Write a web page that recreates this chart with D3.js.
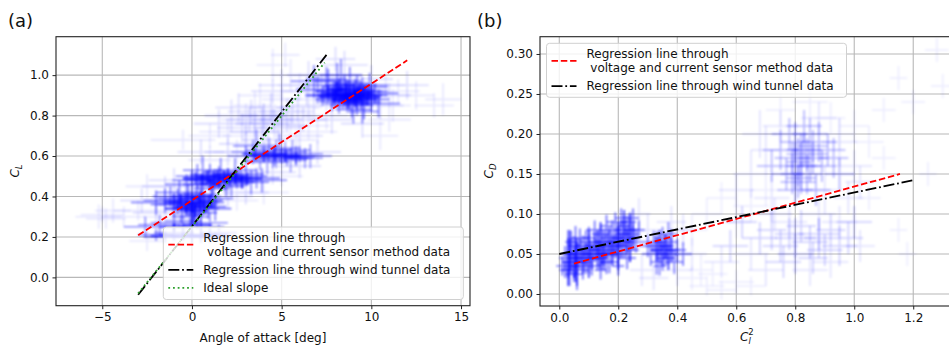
<!DOCTYPE html>
<html lang="en">
<head>
  <meta charset="utf-8">
  <title>Lift and drag coefficients</title>
  <script src="https://d3js.org/d3.v7.min.js"></script>
  <style>
    body { margin: 0; background: #fff; }
    text { font-family: "DejaVu Sans", sans-serif; fill: #111; }
  </style>
</head>
<body>
<script>
// ---- panel (a): angle of attack vs C_L, rows are [aoa, cl, xerr, yerr]
var aoaHigh = [
  [7.0,0.93,1.2,0.07],[7.3,0.90,1.0,0.05],[7.6,0.95,1.4,0.08],[7.8,0.88,0.9,0.06],[8.0,0.92,1.1,0.05],
  [8.1,0.97,1.3,0.09],[8.2,0.86,0.8,0.05],[8.4,0.90,1.0,0.04],[8.5,0.94,1.2,0.06],[8.6,0.88,0.9,0.05],
  [8.7,0.91,1.5,0.07],[8.8,0.96,1.0,0.08],[8.9,0.85,1.2,0.06],[9.0,0.90,0.9,0.04],[9.1,0.93,1.1,0.05],
  [9.2,0.87,1.3,0.07],[9.3,0.91,0.8,0.05],[9.4,0.89,1.0,0.06],[9.5,0.94,1.4,0.05],[9.6,0.86,0.9,0.08],
  [9.7,0.90,1.2,0.05],[9.8,0.92,0.8,0.04],[10.0,0.88,1.0,0.06],[10.2,0.91,1.3,0.05],[7.5,0.98,1.1,0.06],
  [8.3,1.00,1.2,0.08],[9.0,0.83,1.0,0.07],[9.5,0.82,0.9,0.06],[7.9,0.91,0.8,0.04],[8.6,0.93,1.0,0.05],
  [10.4,0.86,1.2,0.07],[6.8,0.97,1.3,0.08],[9.9,0.95,1.0,0.06],[8.2,0.89,1.1,0.05],[9.1,0.88,0.9,0.04],
  [8.0,0.90,1.6,0.06],[9.4,0.92,1.5,0.05],[8.8,0.90,1.8,0.07],[8.4,0.87,1.3,0.04],[9.2,0.95,1.1,0.05]
];
var aoaMid = [
  [3.0,0.60,1.0,0.05],[3.4,0.62,1.2,0.06],[3.8,0.58,0.9,0.05],[4.0,0.61,1.1,0.04],[4.3,0.63,1.3,0.06],
  [4.5,0.59,1.0,0.05],[4.7,0.61,1.4,0.07],[5.0,0.60,1.0,0.04],[5.2,0.62,1.2,0.05],[5.5,0.58,0.9,0.06],
  [5.8,0.60,1.1,0.05],[6.0,0.61,1.3,0.04],[6.3,0.59,1.0,0.05],[4.2,0.57,1.2,0.06],[4.9,0.64,1.1,0.07],
  [3.6,0.65,1.3,0.08],[5.6,0.63,1.0,0.05],[6.6,0.60,1.2,0.06],[4.6,0.60,1.6,0.05],[5.3,0.59,1.5,0.04]
];
var aoaLow = [
  [0.0,0.48,1.1,0.05],[0.3,0.50,1.2,0.06],[0.5,0.46,1.0,0.05],[0.8,0.49,1.3,0.04],[1.0,0.51,1.1,0.05],
  [1.2,0.47,0.9,0.06],[1.4,0.49,1.2,0.04],[1.6,0.52,1.0,0.07],[1.8,0.48,1.4,0.05],[2.0,0.50,1.1,0.04],
  [2.2,0.46,1.0,0.06],[2.5,0.49,1.3,0.05],[2.8,0.48,1.1,0.04],[3.0,0.50,1.2,0.05],[3.3,0.47,1.0,0.06],
  [3.6,0.49,1.3,0.05],[1.1,0.44,1.0,0.05],[2.4,0.53,1.2,0.06],[0.6,0.53,1.1,0.07],[1.9,0.45,1.0,0.05],
  [3.9,0.48,1.4,0.06],[-0.3,0.46,1.2,0.05],[1.5,0.50,1.6,0.05],[2.7,0.51,1.3,0.04],[1.3,0.48,1.8,0.04]
];
var aoaZero = [
  [-1.5,0.38,1.2,0.06],[-1.2,0.40,1.0,0.05],[-1.0,0.36,1.3,0.06],[-0.8,0.39,1.1,0.05],[-0.6,0.34,0.9,0.07],
  [-0.4,0.37,1.2,0.05],[-0.2,0.40,1.0,0.06],[0.0,0.35,1.1,0.08],[0.1,0.33,0.8,0.07],[0.2,0.38,1.2,0.05],
  [0.4,0.36,1.0,0.06],[0.5,0.32,0.9,0.07],[0.7,0.37,1.1,0.05],[0.9,0.35,1.0,0.06],[1.1,0.39,1.2,0.05],
  [1.3,0.34,0.9,0.06],[-0.1,0.30,1.0,0.07],[0.3,0.41,1.1,0.05],[-0.7,0.42,1.3,0.06],[0.6,0.40,1.0,0.05],
  [-2.0,0.37,1.4,0.06],[0.0,0.37,1.5,0.05],[0.2,0.34,1.3,0.06],[-0.3,0.36,1.6,0.05]
];
var aoaBand = [
  [-2.0,0.21,1.0,0.03],[-1.5,0.20,1.2,0.03],[-1.0,0.22,1.1,0.04],[-0.5,0.21,1.3,0.03],[0.0,0.20,1.2,0.03],
  [0.5,0.21,1.0,0.04],[1.0,0.20,1.2,0.03],[1.5,0.22,1.0,0.04],[-1.8,0.26,1.2,0.05],[-1.0,0.27,1.3,0.05],
  [0.0,0.26,1.1,0.04],[1.0,0.27,1.0,0.05],[-2.6,0.25,1.2,0.05],[0.5,0.25,1.3,0.04],[-0.5,0.28,1.0,0.05]
];
var aoaCore = [
  [7.6,0.92,0.7,0.03],[7.9,0.89,0.8,0.03],[8.1,0.93,0.6,0.04],[8.3,0.91,0.9,0.03],[8.5,0.88,0.7,0.03],
  [8.6,0.92,0.8,0.04],[8.8,0.90,0.6,0.03],[9.0,0.93,0.7,0.03],[9.1,0.89,0.9,0.04],[9.3,0.91,0.7,0.03],
  [9.5,0.88,0.8,0.03],[9.6,0.92,0.6,0.03],[9.8,0.89,0.7,0.04],[8.2,0.95,0.8,0.03],[9.2,0.86,0.7,0.03],
  [8.7,0.87,0.6,0.04],[8.0,0.90,0.9,0.03],[9.4,0.90,0.9,0.03],
  [0.2,0.49,0.7,0.03],[0.6,0.48,0.8,0.03],[0.9,0.50,0.7,0.03],[1.2,0.49,0.8,0.03],[1.5,0.47,0.7,0.03],
  [1.8,0.50,0.8,0.03],[2.1,0.48,0.7,0.03],[2.4,0.49,0.9,0.03],[2.8,0.47,0.7,0.03],[3.1,0.49,0.8,0.03],
  [1.0,0.46,0.6,0.03],[2.0,0.51,0.7,0.03],
  [-1.0,0.38,0.6,0.03],[-0.6,0.37,0.7,0.04],[-0.3,0.35,0.6,0.03],[0.0,0.36,0.7,0.04],[0.2,0.33,0.6,0.03],
  [0.4,0.37,0.7,0.03],[0.7,0.35,0.6,0.04],[1.0,0.38,0.7,0.03],[-0.2,0.39,0.6,0.03],[0.5,0.40,0.6,0.03],
  [0.1,0.31,0.5,0.03],[-0.8,0.34,0.7,0.03],
  [4.0,0.60,0.8,0.03],[4.6,0.61,0.7,0.03],[5.2,0.60,0.8,0.03],[5.8,0.59,0.7,0.03],[3.5,0.61,0.7,0.03],
  [-1.5,0.205,0.8,0.015],[-0.5,0.205,0.9,0.015],[0.5,0.205,0.8,0.015],[1.3,0.21,0.7,0.015],
  [-1.0,0.25,0.8,0.02],[0.3,0.26,0.8,0.02]
];
var aoaHaze = [
  [2.2,0.80,1.5,0.08],[2.8,0.74,1.4,0.07],[3.3,0.82,1.3,0.06],[3.9,0.76,1.5,0.08],[4.4,0.84,1.2,0.07],
  [4.8,0.74,1.3,0.06],[5.3,0.80,1.4,0.08],[5.9,0.84,1.2,0.07],[6.2,0.78,1.3,0.06],[1.5,0.76,1.4,0.07],
  [4.0,0.68,1.2,0.06],[6.0,0.70,1.3,0.07],[3.0,0.66,1.5,0.06],[2.0,0.62,1.3,0.07],[6.8,0.85,1.2,0.06],
  [7.2,0.92,1.4,0.08],[6.5,1.00,1.2,0.07],[5.0,0.95,1.3,0.08],[4.5,0.92,1.2,0.06],[0.5,0.62,1.3,0.06],
  [-1.0,0.48,1.4,0.06],[-1.5,0.45,1.3,0.05],[-2.0,0.32,1.3,0.06],[-2.8,0.38,1.2,0.06],[2.0,0.40,1.4,0.06],
  [3.0,0.42,1.3,0.06],[4.5,0.52,1.3,0.06],[6.0,0.55,1.2,0.06],[7.0,0.62,1.3,0.06],[10.5,0.85,1.3,0.07],
  [11.0,0.90,1.2,0.06],[10.0,0.98,1.2,0.07],[8.5,1.05,1.3,0.07],[7.8,0.78,1.2,0.07],[9.5,0.76,1.2,0.07],
  [12.0,0.95,1.2,0.07],[8.0,1.08,1.1,0.06],[4.0,0.80,1.3,0.06],[5.0,0.78,1.2,0.07],[3.5,0.72,1.4,0.06],
  [3.2,0.78,1.3,0.06],[4.6,0.76,1.4,0.07],[5.6,0.82,1.2,0.06],[2.6,0.84,1.3,0.07],[6.4,0.92,1.3,0.07]
];
var aoaSparse = [
  [-5.2,0.30,1.3,0.06],[-4.8,0.29,1.1,0.05],[-5.0,0.31,1.2,0.04],[-4.4,0.33,1.0,0.06],[-3.8,0.30,1.2,0.05],
  [14.0,0.88,1.0,0.08],[13.5,0.85,1.1,0.06],[12.5,0.90,1.0,0.07],[11.5,0.92,1.2,0.06],[11.2,0.85,1.0,0.08],
  [2.0,0.72,1.6,0.06],[3.0,0.70,1.3,0.07],[1.0,0.70,1.2,0.06],[-0.5,0.68,1.8,0.05],[4.0,0.80,1.3,0.06],
  [3.5,0.85,1.2,0.07],[4.5,0.78,1.1,0.06],[5.0,0.82,1.3,0.07],[5.5,1.00,1.1,0.08],[6.0,0.95,1.2,0.06],
  [4.5,1.05,0.9,0.08],[5.2,1.10,0.8,0.06],[6.5,0.75,1.2,0.07],[7.0,0.72,1.1,0.06],[10.5,0.70,1.0,0.07],
  [11.0,0.78,1.2,0.06],[2.5,0.38,1.2,0.05],[4.0,0.42,1.4,0.06],[-2.5,0.45,1.2,0.06],[5.0,0.50,1.2,0.05],
  [3.0,0.78,1.4,0.08],[5.5,0.75,1.0,0.06],[6.5,0.88,1.3,0.07],[2.5,0.62,1.3,0.06],[1.0,0.58,1.2,0.07],
  [-1.5,0.30,1.2,0.06],[-3.0,0.33,1.4,0.05],[-2.5,0.18,1.0,0.05],[7.5,0.80,1.2,0.07],[10.8,0.95,1.1,0.06],
  [3.8,0.90,1.2,0.06],[5.8,0.68,1.1,0.05],[4.2,0.72,1.2,0.05],[3.5,0.76,1.0,0.06],[5.0,0.88,1.1,0.06]
];
var aoaSensorLine = [[-3, 0.208], [12, 1.073]];
var aoaTunnelLine = [[-3, -0.086], [7.5, 1.10]];
var aoaIdealLine  = [[-3, -0.079], [7.4, 1.062]];
var aoaTicks = [-5, 0, 5, 10, 15];
var clTicks = [0.0, 0.2, 0.4, 0.6, 0.8, 1.0];

// ---- panel (b): C_L^2 vs C_D, rows are [cl2, cd, xerr, yerr]
var cdBand = [
  [0.02,0.03,0.02,0.010],[0.03,0.05,0.02,0.030],[0.04,0.04,0.03,0.015],[0.05,0.06,0.02,0.012],[0.06,0.035,0.02,0.030],
  [0.06,0.05,0.03,0.012],[0.07,0.045,0.02,0.014],[0.08,0.06,0.03,0.013],[0.09,0.04,0.02,0.015],[0.10,0.055,0.03,0.012],
  [0.10,0.07,0.02,0.014],[0.11,0.05,0.03,0.016],[0.12,0.065,0.02,0.012],[0.13,0.045,0.03,0.015],[0.13,0.06,0.02,0.018],
  [0.14,0.075,0.03,0.012],[0.15,0.05,0.02,0.014],[0.15,0.065,0.03,0.016],[0.16,0.04,0.02,0.015],[0.17,0.07,0.03,0.014],
  [0.18,0.055,0.02,0.016],[0.18,0.08,0.03,0.012],[0.19,0.065,0.02,0.015],[0.20,0.05,0.03,0.014],[0.21,0.075,0.02,0.016],
  [0.22,0.06,0.03,0.015],[0.22,0.085,0.02,0.014],[0.23,0.07,0.03,0.016],[0.24,0.09,0.02,0.012],[0.24,0.055,0.03,0.015],
  [0.25,0.075,0.02,0.014],[0.26,0.065,0.03,0.013],[0.27,0.08,0.02,0.012],[0.03,0.03,0.02,0.010],[0.05,0.025,0.03,0.010],
  [0.08,0.03,0.02,0.012],[0.11,0.035,0.03,0.012],[0.14,0.03,0.02,0.012],[0.17,0.04,0.03,0.014],[0.20,0.035,0.02,0.012],
  [0.23,0.045,0.03,0.014],[0.04,0.065,0.02,0.014],[0.07,0.07,0.03,0.012],[0.09,0.065,0.02,0.014],[0.12,0.08,0.03,0.012],
  [0.16,0.085,0.02,0.014],[0.19,0.09,0.03,0.012],[0.21,0.095,0.02,0.012],[0.25,0.095,0.02,0.012],[0.02,0.045,0.02,0.015],
  [0.01,0.035,0.02,0.012],[0.035,0.045,0.01,0.035],[0.055,0.05,0.01,0.035],[0.10,0.045,0.04,0.02],[0.15,0.055,0.04,0.02],
  [0.20,0.065,0.04,0.02],[0.05,0.04,0.04,0.02],[0.13,0.05,0.05,0.015],[0.08,0.045,0.05,0.015],[0.18,0.06,0.05,0.015],
  [0.23,0.08,0.04,0.018]
];
var cdMid = [
  [0.31,0.05,0.03,0.015],[0.32,0.065,0.03,0.014],[0.33,0.04,0.02,0.016],[0.34,0.055,0.03,0.015],[0.35,0.07,0.03,0.014],
  [0.35,0.045,0.02,0.016],[0.36,0.06,0.03,0.015],[0.37,0.05,0.03,0.014],[0.38,0.065,0.02,0.016],[0.39,0.04,0.03,0.015],
  [0.40,0.055,0.03,0.014],[0.34,0.035,0.02,0.012],[0.37,0.075,0.03,0.015],[0.30,0.06,0.03,0.014],[0.42,0.05,0.03,0.015],
  [0.36,0.055,0.05,0.02],[0.33,0.06,0.04,0.018]
];
var cdUpper = [
  [0.72,0.16,0.05,0.02],[0.75,0.18,0.06,0.025],[0.77,0.15,0.05,0.02],[0.79,0.17,0.06,0.02],[0.80,0.19,0.05,0.025],
  [0.81,0.14,0.06,0.02],[0.82,0.16,0.05,0.03],[0.83,0.18,0.06,0.02],[0.84,0.15,0.05,0.025],[0.85,0.20,0.06,0.02],
  [0.86,0.17,0.05,0.02],[0.88,0.19,0.06,0.025],[0.89,0.16,0.05,0.02],[0.91,0.18,0.06,0.02],[0.93,0.17,0.05,0.025],
  [0.80,0.13,0.06,0.02],[0.87,0.13,0.05,0.02],[0.78,0.20,0.06,0.02],[0.95,0.15,0.05,0.02],[0.83,0.21,0.06,0.02],
  [0.81,0.165,0.04,0.03],[0.84,0.175,0.07,0.02],[0.82,0.18,0.03,0.02],[0.80,0.16,0.03,0.03],[0.85,0.16,0.04,0.02],
  [0.79,0.15,0.04,0.025],[0.86,0.185,0.05,0.02],[0.82,0.145,0.05,0.02]
];
var cdLowRight = [
  [0.68,0.07,0.06,0.02],[0.72,0.08,0.05,0.025],[0.75,0.06,0.06,0.02],[0.78,0.075,0.05,0.02],[0.80,0.05,0.06,0.025],
  [0.82,0.085,0.05,0.02],[0.85,0.065,0.06,0.02],[0.88,0.07,0.05,0.025],[0.90,0.055,0.06,0.02],[0.92,0.08,0.05,0.02],
  [0.95,0.06,0.06,0.025],[0.98,0.07,0.05,0.02],[0.76,0.04,0.06,0.02],[0.86,0.045,0.05,0.02],[1.00,0.09,0.06,0.02],
  [0.62,0.09,0.05,0.02],[0.58,0.06,0.06,0.02],[0.80,0.07,0.07,0.025],[0.88,0.075,0.07,0.02]
];
var cdCore = [
  [0.04,0.05,0.015,0.02],[0.06,0.045,0.02,0.02],[0.07,0.055,0.015,0.015],[0.09,0.05,0.02,0.015],[0.10,0.06,0.015,0.015],
  [0.12,0.055,0.02,0.015],[0.13,0.065,0.015,0.015],[0.14,0.05,0.02,0.015],[0.16,0.06,0.015,0.015],[0.17,0.065,0.02,0.015],
  [0.19,0.06,0.015,0.015],[0.20,0.07,0.02,0.015],[0.21,0.06,0.015,0.015],[0.22,0.075,0.02,0.015],[0.23,0.065,0.015,0.015],
  [0.24,0.08,0.02,0.015],[0.25,0.07,0.015,0.015],[0.05,0.035,0.02,0.015],[0.08,0.04,0.015,0.015],[0.11,0.045,0.02,0.015],
  [0.15,0.045,0.015,0.015],[0.18,0.05,0.02,0.015],[0.03,0.04,0.005,0.03],[0.06,0.04,0.005,0.03],[0.10,0.05,0.005,0.03],
  [0.14,0.06,0.005,0.03],[0.20,0.06,0.005,0.03],[0.24,0.07,0.005,0.03],[0.22,0.09,0.01,0.015],
  [0.33,0.055,0.02,0.015],[0.35,0.05,0.02,0.015],[0.36,0.06,0.02,0.015],[0.38,0.055,0.02,0.015],[0.34,0.065,0.02,0.015],
  [0.37,0.045,0.02,0.015]
];
var cdHaze = [
  [0.28,0.03,0.04,0.02],[0.30,0.08,0.05,0.02],[0.40,0.03,0.05,0.02],[0.42,0.08,0.05,0.02],[0.45,0.05,0.05,0.02],
  [0.27,0.10,0.04,0.02],[0.38,0.09,0.05,0.02],[0.32,0.02,0.05,0.015],
  [0.65,0.15,0.06,0.03],[0.68,0.20,0.06,0.03],[0.72,0.12,0.06,0.03],[0.75,0.21,0.06,0.02],[0.90,0.13,0.06,0.03],
  [0.95,0.19,0.06,0.03],[1.00,0.16,0.06,0.02],[0.98,0.12,0.05,0.02],[0.70,0.18,0.05,0.03],[0.88,0.22,0.06,0.02],
  [0.60,0.13,0.06,0.02],[1.02,0.14,0.05,0.02],
  [0.55,0.04,0.06,0.02],[0.65,0.05,0.06,0.02],[0.70,0.03,0.06,0.02],[0.78,0.09,0.06,0.02],[0.85,0.03,0.06,0.02],
  [0.92,0.04,0.06,0.02],[1.02,0.06,0.05,0.02],[0.95,0.09,0.06,0.02],[0.88,0.10,0.06,0.02],[0.73,0.10,0.06,0.02]
];
var cdSparse = [
  [0.45,0.02,0.05,0.015],[0.50,0.01,0.06,0.012],[0.55,0.005,0.05,0.012],[0.60,0.015,0.06,0.015],[0.52,0.025,0.05,0.015],
  [0.65,0.01,0.05,0.012],[0.48,0.03,0.04,0.02],
  [0.50,0.10,0.05,0.02],[0.55,0.12,0.05,0.02],[0.65,0.11,0.06,0.02],[0.70,0.13,0.05,0.02],[0.60,0.09,0.05,0.02],
  [0.45,0.08,0.05,0.02],
  [0.75,0.23,0.05,0.02],[0.85,0.24,0.06,0.02],[0.92,0.22,0.05,0.02],[1.00,0.21,0.05,0.02],[1.05,0.19,0.05,0.02],
  [0.95,0.20,0.05,0.02],
  [1.28,0.305,0.04,0.015],[1.30,0.26,0.04,0.015],[1.20,0.24,0.04,0.015],[1.15,0.27,0.03,0.015],[1.10,0.23,0.04,0.015],
  [1.25,0.15,0.03,0.015],[1.15,0.08,0.03,0.015],[1.18,0.05,0.03,0.015],[1.05,0.12,0.04,0.015],[1.10,0.17,0.04,0.015]
];
var cdSensorLine = [[0.05, 0.038], [1.155, 0.150]];
var cdTunnelLine = [[0.0, 0.050], [1.205, 0.1425]];
var cl2Ticks = [0.0, 0.2, 0.4, 0.6, 0.8, 1.0, 1.2];
var cdTicks = [0.00, 0.05, 0.10, 0.15, 0.20, 0.25, 0.30];

var sensorLabel = ['Regression line through', ' voltage and current sensor method data'];
var tunnelLabel = ['Regression line through wind tunnel data'];
var idealLabel = ['Ideal slope'];

var W = 949, H = 346;
var svg = d3.select('body').append('svg')
    .attr('width', W)
    .attr('height', H);
svg.append('rect').attr('width', W).attr('height', H).attr('fill', '#fff');

// soft look of the printed scatter
svg.append('defs').append('filter').attr('id', 'soft')
    .attr('x', '-5%').attr('y', '-5%').attr('width', '110%').attr('height', '110%')
  .append('feGaussianBlur').attr('stdDeviation', 0.8);

var styles = {
  dashed:  {color: '#ff0000', dash: '6.5,2.8'},
  dashdot: {color: '#000000', dash: '11,2.8,1.8,2.8'},
  dotted:  {color: '#2ca02c', dash: '1.8,2.9'}
};

function minusFmt(f) {
  return function(d) { return f(d).replace('-', '\u2212'); };
}

function drawPanel(p) {
  var x = d3.scaleLinear().domain(p.xDomain).range([p.left, p.right]);
  var y = d3.scaleLinear().domain(p.yDomain).range([p.bottom, p.top]);
  var g = svg.append('g');

  g.append('clipPath').attr('id', p.id + '-clip')
    .append('rect')
      .attr('x', p.left).attr('y', p.top)
      .attr('width', p.right - p.left).attr('height', p.bottom - p.top);

  // grid
  g.append('g').selectAll('line').data(p.xTicks).join('line')
    .attr('x1', function(d){ return x(d); }).attr('x2', function(d){ return x(d); })
    .attr('y1', p.top).attr('y2', p.bottom)
    .attr('stroke', '#b8b8b8').attr('stroke-width', 1.1);
  g.append('g').selectAll('line').data(p.yTicks).join('line')
    .attr('y1', function(d){ return y(d); }).attr('y2', function(d){ return y(d); })
    .attr('x1', p.left).attr('x2', p.right)
    .attr('stroke', '#b8b8b8').attr('stroke-width', 1.1);

  var plot = g.append('g').attr('clip-path', 'url(#' + p.id + '-clip)');
  var cloud = plot.append('g').attr('filter', 'url(#soft)');

  // error-bar crosses, one group per cloud
  p.groups.forEach(function(grp) {
    cloud.append('g').selectAll('path').data(grp.data).join('path')
      .attr('d', function(d) {
        var cx = x(d[0]), cy = y(d[1]);
        return 'M' + x(d[0] - d[2]) + ',' + cy + 'H' + x(d[0] + d[2]) +
               'M' + cx + ',' + y(d[1] + d[3]) + 'V' + y(d[1] - d[3]);
      })
      .attr('fill', 'none')
      .attr('stroke', '#0000ff')
      .attr('stroke-opacity', grp.opacity)
      .attr('stroke-width', 1.6);
  });

  // regression lines
  var line = d3.line()
    .x(function(d){ return x(d[0]); })
    .y(function(d){ return y(d[1]); });
  p.lines.forEach(function(l) {
    plot.append('path')
      .datum(l.data)
      .attr('d', line)
      .attr('fill', 'none')
      .attr('stroke', styles[l.style].color)
      .attr('stroke-width', 1.8)
      .attr('stroke-dasharray', styles[l.style].dash);
  });

  // spines
  g.append('rect')
    .attr('x', p.left).attr('y', p.top)
    .attr('width', p.right - p.left).attr('height', p.bottom - p.top)
    .attr('fill', 'none').attr('stroke', '#222').attr('stroke-width', 1.1);

  // axes
  var xa = g.append('g').attr('transform', 'translate(0,' + p.bottom + ')')
    .call(d3.axisBottom(x).tickValues(p.xTicks).tickFormat(p.xFmt).tickSize(3.5).tickPadding(3.5));
  var ya = g.append('g').attr('transform', 'translate(' + p.left + ',0)')
    .call(d3.axisLeft(y).tickValues(p.yTicks).tickFormat(p.yFmt).tickSize(3.5).tickPadding(3.5));
  [xa, ya].forEach(function(a) {
    a.select('.domain').remove();
    a.selectAll('line').attr('stroke', '#222');
    a.selectAll('text').attr('font-size', 12).attr('font-family', '"DejaVu Sans", sans-serif').attr('fill', '#111');
  });

  // legend
  var lg = g.append('g');
  lg.append('rect')
    .attr('x', p.legend.x).attr('y', p.legend.y)
    .attr('width', p.legend.w).attr('height', p.legend.h)
    .attr('rx', 3)
    .attr('fill', '#fff').attr('fill-opacity', 0.8)
    .attr('stroke', '#d0d0d0').attr('stroke-width', 1);
  var ty = p.legend.y + 14.5;
  p.lines.forEach(function(l) {
    var n = l.label.length;
    var hy = ty - 4 + (n - 1) * 14.3 / 2;
    lg.append('line')
      .attr('x1', p.legend.x + 5).attr('x2', p.legend.x + 30)
      .attr('y1', hy).attr('y2', hy)
      .attr('stroke', styles[l.style].color)
      .attr('stroke-width', 1.8)
      .attr('stroke-dasharray', styles[l.style].dash);
    var t = lg.append('text')
      .attr('x', p.legend.x + 40).attr('y', ty)
      .attr('font-size', 12)
      .attr('xml:space', 'preserve');
    l.label.forEach(function(s, i) {
      t.append('tspan').attr('x', p.legend.x + 40).attr('dy', i ? 14.3 : 0).text(s);
    });
    ty += 14.3 * (n - 1) + 18;
  });

  // panel tag
  svg.append('text')
    .attr('x', p.tag.x).attr('y', p.tag.y)
    .attr('font-family', '"Liberation Sans", Arial, sans-serif')
    .attr('font-size', 18)
    .text(p.tag.text);
}

drawPanel({
  id: 'a', left: 56, right: 470, top: 36.7, bottom: 305.7,
  xDomain: [-7.58, 15.5], yDomain: [-0.14, 1.19],
  xTicks: aoaTicks, yTicks: clTicks,
  xFmt: minusFmt(d3.format('d')), yFmt: d3.format('.1f'),
  groups: [
    {data: aoaSparse, opacity: 0.1},
    {data: aoaHaze, opacity: 0.15},
    {data: aoaMid, opacity: 0.42},
    {data: aoaBand, opacity: 0.45},
    {data: aoaHigh, opacity: 0.5},
    {data: aoaLow, opacity: 0.5},
    {data: aoaZero, opacity: 0.52},
    {data: aoaCore, opacity: 0.72}
  ],
  lines: [
    {data: aoaSensorLine, style: 'dashed', label: sensorLabel},
    {data: aoaTunnelLine, style: 'dashdot', label: tunnelLabel},
    {data: aoaIdealLine, style: 'dotted', label: idealLabel}
  ],
  legend: {x: 163.3, y: 227, w: 300, h: 72.5},
  tag: {x: 8, y: 27, text: '(a)'}
});

drawPanel({
  id: 'b', left: 540, right: 956, top: 36.7, bottom: 306,
  xDomain: [-0.0654, 1.345], yDomain: [-0.015, 0.3216],
  xTicks: cl2Ticks, yTicks: cdTicks,
  xFmt: d3.format('.1f'), yFmt: d3.format('.2f'),
  groups: [
    {data: cdSparse, opacity: 0.08},
    {data: cdHaze, opacity: 0.12},
    {data: cdLowRight, opacity: 0.2},
    {data: cdUpper, opacity: 0.3},
    {data: cdMid, opacity: 0.52},
    {data: cdBand, opacity: 0.58},
    {data: cdCore, opacity: 0.78}
  ],
  lines: [
    {data: cdSensorLine, style: 'dashed', label: sensorLabel},
    {data: cdTunnelLine, style: 'dashdot', label: tunnelLabel}
  ],
  legend: {x: 546.5, y: 43.3, w: 300, h: 54},
  tag: {x: 477, y: 27, text: '(b)'}
});

// axis titles
svg.append('text')
  .attr('x', 263).attr('y', 342)
  .attr('text-anchor', 'middle')
  .attr('font-size', 12)
  .text('Angle of attack [deg]');

var cl = svg.append('text')
  .attr('transform', 'translate(19,171) rotate(-90)')
  .attr('text-anchor', 'middle')
  .attr('font-size', 12);
cl.append('tspan').attr('font-style', 'italic').text('C');
cl.append('tspan').attr('font-style', 'italic').attr('font-size', 8.5).attr('dy', 3).text('L');

var cd = svg.append('text')
  .attr('transform', 'translate(493,171) rotate(-90)')
  .attr('text-anchor', 'middle')
  .attr('font-size', 12);
cd.append('tspan').attr('font-style', 'italic').text('C');
cd.append('tspan').attr('font-style', 'italic').attr('font-size', 8.5).attr('dy', 3).text('D');

var cl2 = svg.append('text')
  .attr('x', 740).attr('y', 341)
  .attr('font-size', 12);
cl2.append('tspan').attr('font-style', 'italic').text('C');
cl2.append('tspan').attr('font-style', 'italic').attr('font-size', 8.5).attr('dy', 3).text('l');
cl2.append('tspan').attr('font-size', 8.5).attr('dx', -2.5).attr('dy', -9).text('2');
</script>
</body>
</html>
